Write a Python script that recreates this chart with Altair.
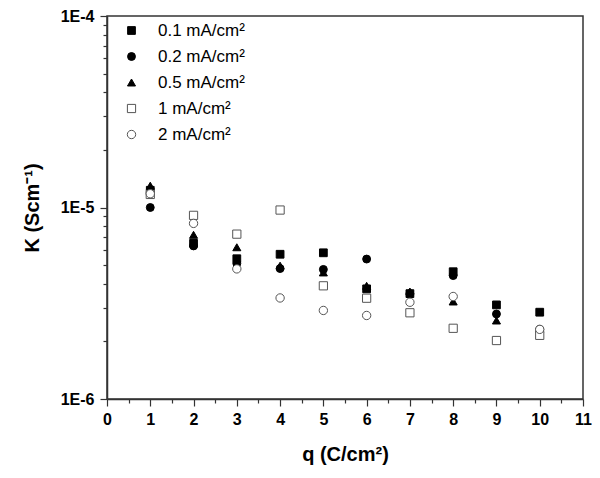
import altair as alt
import pandas as pd

q = [1, 2, 3, 4, 5, 6, 7, 8, 9, 10]
series = ["0.1 mA/cm²", "0.2 mA/cm²", "0.5 mA/cm²", "1 mA/cm²", "2 mA/cm²"]
k01 = [1.23e-5, 6.5e-6, 5.4e-6, 5.7e-6, 5.8e-6, 3.76e-6, 3.55e-6, 4.62e-6, 3.1e-6, 2.84e-6]
k02 = [1.0e-5, 6.3e-6, 5.1e-6, 4.8e-6, 4.75e-6, 5.38e-6, 3.55e-6, 4.41e-6, 2.78e-6, 2.31e-6]
k05 = [1.3e-5, 7.2e-6, 6.2e-6, 4.97e-6, 4.58e-6, 3.9e-6, 3.64e-6, 3.23e-6, 2.57e-6, 2.33e-6]
k1 = [1.17e-5, 9.1e-6, 7.26e-6, 9.7e-6, 3.9e-6, 3.36e-6, 2.82e-6, 2.34e-6, 2.02e-6, 2.15e-6]
k2 = [1.18e-5, 8.26e-6, 4.78e-6, 3.37e-6, 2.9e-6, 2.73e-6, 3.2e-6, 3.43e-6, None, 2.31e-6]

x_ticks = list(range(0, 12))
x_minor = [i + 0.5 for i in range(0, 11)]
y_ticks = [m * 10 ** e for e in (-6, -5) for m in range(1, 10)] + [1e-4]

shapes = ["square", "circle", "triangle-up", "square", "circle"]
fills = ["black", "black", "black", "white", "white"]
strokes = ["black", "black", "black", "#555555", "#555555"]
sizes = [60, 70, 95, 55, 70]

rows = []
for s, vals in zip(series, [k01, k02, k05, k1, k2]):
    for x, v in zip(q, vals):
        if v is not None:
            rows.append({"q": x, "K": v, "series": s})
df = pd.DataFrame(rows)
df["order"] = df["series"].map({s: i for i, s in enumerate(series)})

FONT = "Liberation Sans"
is_major = "abs(log(datum.value)/LN10 - round(log(datum.value)/LN10)) < 1e-6"
is_int = "abs(datum.value - round(datum.value)) < 1e-6"

chart = alt.Chart(df).mark_point(filled=False, opacity=1, strokeWidth=1).encode(
    x=alt.X("q:Q", scale=alt.Scale(domain=[0, 11], nice=False, zero=False),
            axis=alt.Axis(values=x_ticks + x_minor, title="q (C/cm²)",
                          labelExpr=f"{is_int} ? format(datum.value, 'd') : ''",
                          tickSize={"condition": {"test": is_int, "value": 7}, "value": 4},
                          grid=False, labelFontSize=16, labelFontWeight="bold",
                          titleFontSize=20, titleFontWeight="bold", labelPadding=5,
                          titlePadding=17, labelFlush=False)),
    y=alt.Y("K:Q", scale=alt.Scale(type="log", domain=[1e-6, 1e-4], nice=False),
            axis=alt.Axis(values=y_ticks, title="K (Scm⁻¹)",
                          labelExpr=f"{is_major} ? '1E' + round(log(datum.value)/LN10) : ''",
                          tickSize={"condition": {"test": is_major, "value": 7}, "value": 4},
                          grid=False, labelFontSize=16, labelFontWeight="bold",
                          titleFontSize=20, titleFontWeight="bold", labelPadding=6,
                          titlePadding=18, labelFlush=False, labelBaseline="middle")),
    shape=alt.Shape("series:N", scale=alt.Scale(domain=series, range=shapes),
                    legend=alt.Legend(title=None, orient="none", legendX=16, legendY=6,
                                      labelFontSize=17, labelFont=FONT, rowPadding=8,
                                      labelOffset=18, padding=0)),
    fill=alt.Fill("series:N", scale=alt.Scale(domain=series, range=fills)),
    stroke=alt.Stroke("series:N", scale=alt.Scale(domain=series, range=strokes)),
    size=alt.Size("series:N", scale=alt.Scale(domain=series, range=sizes)),
    order=alt.Order("order:Q"),
).properties(
    width=476, height=383,
    autosize=alt.AutoSizeParams(type="none"),
    padding={"left": 99, "top": 8, "right": 9, "bottom": 70},
).configure_view(
    stroke="#333333", strokeWidth=1.5
).configure_axis(
    labelFont=FONT, titleFont=FONT, domainColor="#333333", domainWidth=1.5,
    tickColor="#333333", tickWidth=1.2, labelColor="black", titleColor="black"
).configure_legend(
    symbolStrokeWidth=1
)

chart.save("out.html", embed_options={"renderer": "svg", "actions": False})
